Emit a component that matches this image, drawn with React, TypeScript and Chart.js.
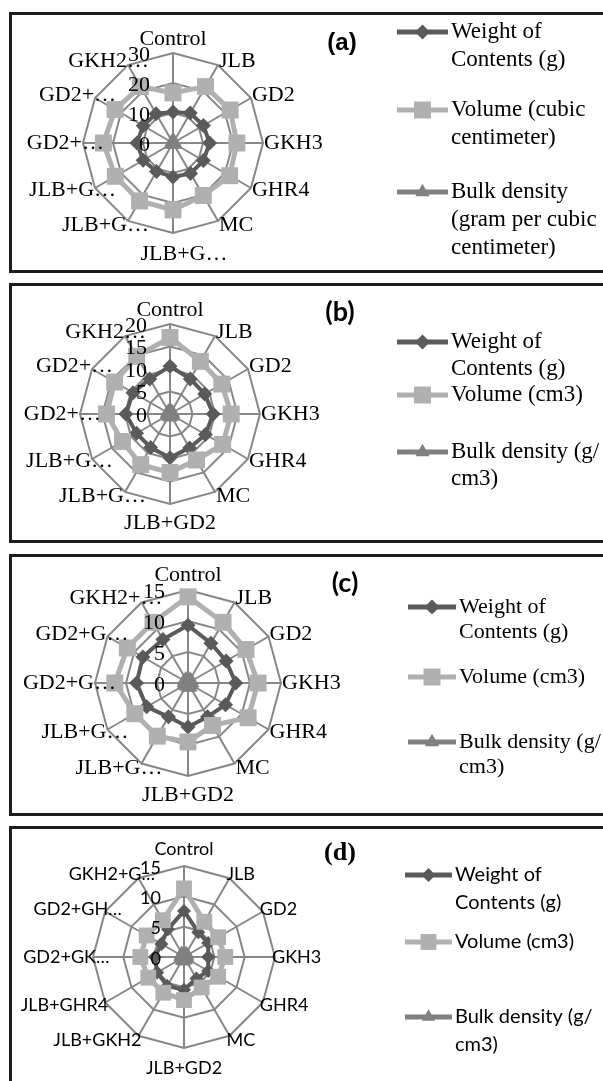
import React, { useEffect, useRef } from 'react';
import { Chart, registerables } from 'chart.js';
Chart.register(...registerables);

// ---------- data ----------
const labelsA = ['Control', 'JLB', 'GD2', 'GKH3', 'GHR4', 'MC', 'JLB+G…', 'JLB+G…', 'JLB+G…', 'GD2+…', 'GD2+…', 'GKH2…'];
const weightA = [10.3, 11.5, 11.7, 12.2, 11.7, 11.7, 11.3, 11.0, 11.5, 12.0, 11.5, 11.3];
const volumeA = [16.7, 21.7, 22.0, 21.3, 21.8, 20.2, 22.3, 22.3, 22.2, 23.2, 22.3, 21.7];
const bulkA = [0.62, 0.53, 0.53, 0.58, 0.54, 0.58, 0.51, 0.49, 0.52, 0.52, 0.52, 0.52];
const legendA = ['Weight of\nContents (g)', 'Volume (cubic\ncentimeter)', 'Bulk density\n(gram per cubic\ncentimeter)'];

const labelsB = ['Control', 'JLB', 'GD2', 'GKH3', 'GHR4', 'MC', 'JLB+GD2', 'JLB+G…', 'JLB+G…', 'GD2+…', 'GD2+…', 'GKH2…'];
const weightB = [10.6, 9.0, 8.9, 9.6, 9.1, 8.7, 9.7, 8.6, 8.6, 9.8, 9.5, 9.0];
const volumeB = [17.0, 13.5, 13.3, 13.6, 13.5, 11.8, 13.0, 13.0, 12.2, 14.1, 14.2, 14.8];
const bulkB = [0.62, 0.67, 0.67, 0.71, 0.67, 0.74, 0.75, 0.66, 0.70, 0.70, 0.67, 0.61];
const legendB = ['Weight of\nContents (g)', 'Volume (cm3)', 'Bulk density (g/\ncm3)'];

const labelsC = ['Control', 'JLB', 'GD2', 'GKH3', 'GHR4', 'MC', 'JLB+GD2', 'JLB+G…', 'JLB+G…', 'GD2+G…', 'GD2+G…', 'GKH2+…'];
const weightC = [9.3, 7.4, 7.1, 7.7, 7.0, 6.3, 7.1, 6.3, 7.7, 8.3, 8.4, 8.1];
const volumeC = [13.9, 11.3, 10.8, 11.3, 11.2, 7.9, 9.5, 9.9, 9.9, 11.8, 11.3, 11.3];
const bulkC = [0.67, 0.65, 0.66, 0.68, 0.63, 0.80, 0.75, 0.64, 0.78, 0.70, 0.74, 0.72];
const legendC = ['Weight of\nContents (g)', 'Volume (cm3)', 'Bulk density (g/\ncm3)'];

const labelsD = ['Control', 'JLB', 'GD2', 'GKH3', 'GHR4', 'MC', 'JLB+GD2', 'JLB+GKH2', 'JLB+GHR4', 'GD2+GK…', 'GD2+GH…', 'GKH2+G…'];
const weightD = [7.6, 4.7, 4.6, 4.0, 4.6, 4.1, 5.4, 5.5, 5.1, 4.8, 4.3, 5.3];
const volumeD = [11.3, 6.7, 6.5, 6.8, 6.5, 5.8, 7.1, 6.8, 6.8, 7.2, 7.1, 7.0];
const bulkD = [0.67, 0.70, 0.71, 0.59, 0.71, 0.71, 0.76, 0.81, 0.75, 0.67, 0.61, 0.76];
const legendD = ['Weight of\nContents (g)', 'Volume (cm3)', 'Bulk density (g/\ncm3)'];

// ---------- styles ----------
const SERIF = '"Liberation Serif", "Times New Roman", serif';
const SANS = 'Lato, "Noto Sans", sans-serif';
const C_WEIGHT = '#5a5a5a';
const C_VOLUME = '#b0b0b0';
const C_BULK = '#808080';
const C_GRID = '#878787';

function drawMarker(ctx: CanvasRenderingContext2D, style: string, x: number, y: number, r: number, color: string) {
  ctx.fillStyle = color;
  ctx.beginPath();
  if (style === 'rectRot') {
    ctx.moveTo(x, y - r); ctx.lineTo(x + r, y); ctx.lineTo(x, y + r); ctx.lineTo(x - r, y);
  } else if (style === 'rect') {
    const s = r * Math.SQRT1_2;
    ctx.rect(x - s, y - s, 2 * s, 2 * s);
  } else {
    ctx.moveTo(x, y - r);
    ctx.lineTo(x + r * 0.866, y + r * 0.5);
    ctx.lineTo(x - r * 0.866, y + r * 0.5);
  }
  ctx.closePath();
  ctx.fill();
}

const panelText = {
  id: 'panelText',
  afterDraw(chart: any, _a: any, o: any) {
    const ctx: CanvasRenderingContext2D = chart.ctx;
    const scale: any = chart.scales.r;
    const labels: string[] = chart.data.labels;
    const n = labels.length;
    const R = scale.drawingArea;
    ctx.save();
    ctx.fillStyle = '#000';
    ctx.font = `${o.labelSize}px ${o.family}`;
    labels.forEach((lab, i) => {
      const p = scale.getPointPosition(i, R);
      const deg = (i * 360) / n;
      const th = (deg * Math.PI) / 180;
      const cut = lab.endsWith('…');
      const base = cut ? lab.slice(0, -1) : lab;
      let x = p.x;
      let y = p.y;
      let align: CanvasTextAlign;
      if (deg === 0) {
        align = 'center'; ctx.textBaseline = 'alphabetic'; y -= o.topGap;
      } else if (deg === 180) {
        align = 'center'; ctx.textBaseline = 'alphabetic'; y += o.bottomGap;
      } else {
        align = deg < 180 ? 'left' : 'right';
        ctx.textBaseline = 'middle';
        x += (deg < 180 ? 1 : -1) * o.sideGap;
        y += -Math.cos(th) * o.vShift;
      }
      ctx.textAlign = align;
      ctx.fillText(base, x, y);
      if (cut) {
        const w = ctx.measureText(base).width;
        const right = align === 'left' ? x + w : align === 'right' ? x : x + w / 2;
        ctx.textAlign = 'left';
        ctx.fillText('…', right, y);
      }
    });
    // tick labels
    ctx.textAlign = 'right';
    ctx.textBaseline = 'middle';
    scale.ticks.forEach((t: any) => {
      const d = scale.getDistanceFromCenterForValue(t.value);
      ctx.fillText(String(t.value), scale.xCenter - o.tickDx, scale.yCenter - d + o.tickDy);
    });
    // legend
    const L = o.legend;
    ctx.font = `${L.size}px ${o.family}`;
    chart.data.datasets.forEach((ds: any, i: number) => {
      const y = L.ys[i];
      ctx.strokeStyle = ds.borderColor;
      ctx.lineWidth = 5;
      ctx.beginPath(); ctx.moveTo(L.x0, y); ctx.lineTo(L.x1, y); ctx.stroke();
      drawMarker(ctx, ds.pointStyle, (L.x0 + L.x1) / 2, y, ds.pointRadius, ds.pointBackgroundColor);
      ctx.fillStyle = '#000';
      ctx.textAlign = 'left';
      ctx.textBaseline = 'middle';
      String(ds.label).split('\n').forEach((ln, k) => ctx.fillText(ln, L.tx, y + k * L.lh));
    });
    // tag
    ctx.font = o.tag.font;
    ctx.textAlign = 'center';
    ctx.textBaseline = 'middle';
    ctx.fillText(o.tag.text, o.tag.x, o.tag.y);
    ctx.restore();
  },
};

type Panel = {
  top: number; height: number; cx: number; cy: number; R: number; max: number; step: number;
  labels: string[]; weight: number[]; volume: number[]; bulk: number[]; legend: string[];
  family: string; labelSize: number; legendSize: number; topGap: number; bottomGap: number; sideGap: number;
  legendX0: number; legendX1: number; legendTx: number; legendYs: number[]; legendLh: number;
  tag: string; tagX: number; tagY: number; tagFont: string; marker: number;
};

const W = 603;

function RadarPanel({ p }: { p: Panel }) {
  const ref = useRef<HTMLCanvasElement>(null);
  useEffect(() => {
    const cyl = p.cy - p.top;
    const m = p.marker;
    const chart = new Chart(ref.current as HTMLCanvasElement, {
      type: 'radar',
      data: {
        labels: p.labels,
        datasets: [
          { label: p.legend[0], data: p.weight, borderColor: C_WEIGHT, backgroundColor: C_WEIGHT, pointBackgroundColor: C_WEIGHT, pointBorderColor: C_WEIGHT, pointStyle: 'rectRot', pointRadius: m, pointBorderWidth: 0, borderWidth: 4, fill: false, order: 3 },
          { label: p.legend[1], data: p.volume, borderColor: C_VOLUME, backgroundColor: C_VOLUME, pointBackgroundColor: C_VOLUME, pointBorderColor: C_VOLUME, pointStyle: 'rect', pointRadius: m * 1.6, pointBorderWidth: 0, borderWidth: 5, fill: false, order: 2 },
          { label: p.legend[2], data: p.bulk, borderColor: C_BULK, backgroundColor: C_BULK, pointBackgroundColor: C_BULK, pointBorderColor: C_BULK, pointStyle: 'triangle', pointRadius: m * 1.1, pointBorderWidth: 0, borderWidth: 3, fill: false, order: 1 },
        ],
      } as any,
      options: {
        responsive: false,
        animation: false,
        devicePixelRatio: 1,
        layout: { padding: { left: p.cx - p.R, right: W - (p.cx + p.R), top: cyl - p.R, bottom: p.height - (cyl + p.R) } },
        elements: { line: { tension: 0 } },
        scales: {
          r: {
            min: 0, max: p.max, beginAtZero: true,
            ticks: { display: false, stepSize: p.step },
            grid: { color: C_GRID, lineWidth: 2, circular: false },
            angleLines: { color: C_GRID, lineWidth: 2 },
            pointLabels: { display: false },
          },
        },
        plugins: {
          legend: { display: false },
          tooltip: { enabled: false },
          panelText: {
            family: p.family, labelSize: p.labelSize, topGap: p.topGap, bottomGap: p.bottomGap, sideGap: p.sideGap, vShift: 5,
            tickDx: 23, tickDy: 2,
            legend: { x0: p.legendX0, x1: p.legendX1, tx: p.legendTx, ys: p.legendYs.map((v) => v - p.top), lh: p.legendLh, size: p.legendSize },
            tag: { text: p.tag, x: p.tagX, y: p.tagY - p.top, font: p.tagFont },
          },
        } as any,
      },
      plugins: [panelText],
    });
    return () => chart.destroy();
  }, []);
  return (
    <>
      <div style={{ position: 'absolute', left: 9, top: p.top, width: 640, height: p.height, border: '3px solid #1c1c1c', boxSizing: 'border-box' }} />
      <canvas ref={ref} width={W} height={p.height} style={{ position: 'absolute', left: 0, top: p.top, width: W, height: p.height }} />
    </>
  );
}

const panels: Panel[] = [
  { top: 12, height: 261, cx: 173, cy: 143, R: 90, max: 30, step: 10, labels: labelsA, weight: weightA, volume: volumeA, bulk: bulkA, legend: legendA,
    family: SERIF, labelSize: 22, legendSize: 23, topGap: 8, bottomGap: 27, sideGap: 1, legendX0: 397, legendX1: 448, legendTx: 451, legendYs: [32, 110, 192], legendLh: 28,
    tag: '(a)', tagX: 342, tagY: 43, tagFont: 'bold 24px "Liberation Sans", Arial, sans-serif', marker: 7.5 },
  { top: 283, height: 260, cx: 170, cy: 414, R: 90, max: 20, step: 5, labels: labelsB, weight: weightB, volume: volumeB, bulk: bulkB, legend: legendB,
    family: SERIF, labelSize: 22, legendSize: 23, topGap: 8, bottomGap: 25, sideGap: 1, legendX0: 397, legendX1: 448, legendTx: 451, legendYs: [342, 395, 452], legendLh: 27,
    tag: '(b)', tagX: 340, tagY: 312, tagFont: 'bold 27px Lato, sans-serif', marker: 7.5 },
  { top: 554, height: 262, cx: 188, cy: 683, R: 93, max: 15, step: 5, labels: labelsC, weight: weightC, volume: volumeC, bulk: bulkC, legend: legendC,
    family: SERIF, labelSize: 22, legendSize: 22, topGap: 9, bottomGap: 25, sideGap: 1, legendX0: 408, legendX1: 456, legendTx: 459, legendYs: [607, 677, 742], legendLh: 25,
    tag: '(c)', tagX: 345, tagY: 583, tagFont: 'bold 27px Lato, sans-serif', marker: 7.5 },
  { top: 826, height: 264, cx: 184, cy: 957, R: 91, max: 15, step: 5, labels: labelsD, weight: weightD, volume: volumeD, bulk: bulkD, legend: legendD,
    family: SANS, labelSize: 18, legendSize: 20, topGap: 11, bottomGap: 26, sideGap: -3, legendX0: 405, legendX1: 452, legendTx: 455, legendYs: [875, 942, 1017], legendLh: 28,
    tag: '(d)', tagX: 340, tagY: 853, tagFont: 'bold 26px "Liberation Serif", serif', marker: 7 },
];

export default function App() {
  return (
    <div style={{ position: 'fixed', left: 0, top: 0, width: W, height: 1081, overflow: 'hidden', background: '#fff' }}>
      {panels.map((p, i) => (
        <RadarPanel key={i} p={p} />
      ))}
    </div>
  );
}
